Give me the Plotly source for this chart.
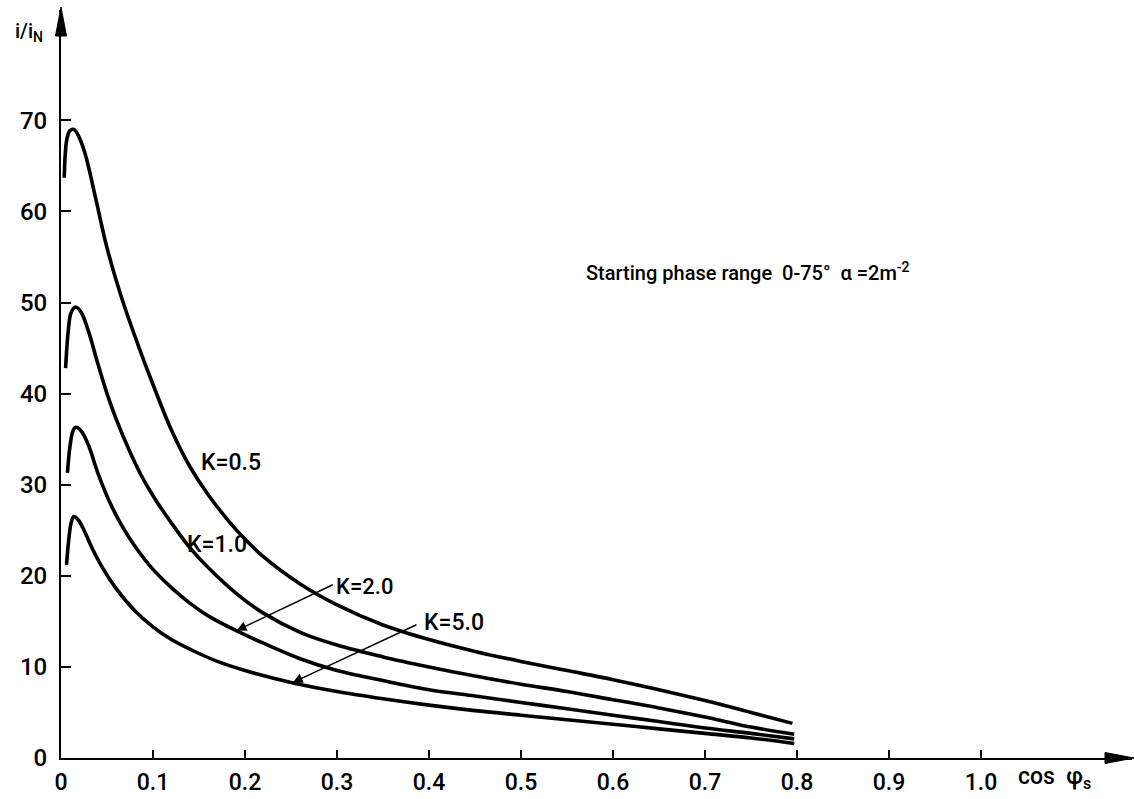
import plotly.graph_objects as go

# ---- data ----
k05_x = [0.0035, 0.0065, 0.010, 0.014, 0.019, 0.026, 0.038, 0.050, 0.065, 0.085, 0.100, 0.120, 0.140, 0.160,
         0.190, 0.220, 0.260, 0.300, 0.350, 0.400, 0.450, 0.500, 0.550, 0.600, 0.650, 0.700, 0.750, 0.795]
k05_y = [63.7, 68.0, 68.9, 69.0, 68.3, 66.4, 61.3, 56.0, 50.8, 45.0, 41.0, 36.0, 32.0, 28.9,
         25.1, 22.1, 19.1, 16.8, 14.6, 13.0, 11.7, 10.6, 9.6, 8.6, 7.5, 6.3, 5.0, 3.8]

k10_x = [0.005, 0.008, 0.011, 0.016, 0.022, 0.030, 0.040, 0.050, 0.060, 0.075, 0.090, 0.105, 0.120, 0.140,
         0.160, 0.190, 0.220, 0.260, 0.300, 0.350, 0.400, 0.450, 0.500, 0.550, 0.600, 0.650, 0.700, 0.750, 0.797]
k10_y = [42.8, 47.0, 48.9, 49.5, 48.9, 46.8, 43.3, 40.0, 37.2, 33.6, 30.5, 28.0, 25.8, 23.1,
         20.9, 18.1, 15.9, 13.8, 12.4, 11.1, 10.0, 9.0, 8.1, 7.3, 6.4, 5.5, 4.5, 3.4, 2.6]

k20_x = [0.007, 0.010, 0.013, 0.016, 0.022, 0.030, 0.040, 0.052, 0.065, 0.080, 0.100, 0.120, 0.140, 0.160,
         0.190, 0.220, 0.260, 0.300, 0.350, 0.400, 0.450, 0.500, 0.550, 0.600, 0.650, 0.700, 0.750, 0.797]
k20_y = [31.3, 34.4, 35.9, 36.3, 35.9, 34.3, 31.3, 28.3, 25.7, 23.3, 20.7, 18.7, 17.0, 15.6,
         14.0, 12.6, 10.9, 9.6, 8.5, 7.5, 6.8, 6.1, 5.4, 4.7, 4.0, 3.3, 2.7, 2.1]

k50_x = [0.006, 0.009, 0.011, 0.014, 0.019, 0.025, 0.034, 0.045, 0.060, 0.080, 0.100, 0.120, 0.143, 0.170,
         0.200, 0.250, 0.300, 0.350, 0.400, 0.450, 0.500, 0.550, 0.600, 0.650, 0.700, 0.750, 0.797]
k50_y = [21.2, 24.5, 25.8, 26.5, 26.1, 25.0, 23.0, 20.9, 18.6, 16.2, 14.4, 13.0, 11.8, 10.6,
         9.6, 8.3, 7.3, 6.5, 5.8, 5.2, 4.7, 4.2, 3.7, 3.2, 2.7, 2.2, 1.6]

x_ticks = [0, 0.1, 0.2, 0.3, 0.4, 0.5, 0.6, 0.7, 0.8, 0.9, 1.0]
x_tick_text = ["0", "0.1", "0.2", "0.3", "0.4", "0.5", "0.6", "0.7", "0.8", "0.9", "1.0"]
y_ticks = [0, 10, 20, 30, 40, 50, 60, 70]

labels = ["K=0.5", "K=1.0", "K=2.0", "K=5.0"]

# ---- layout geometry (pixels) ----
W, H = 1134, 799
PL, PR, PT, PB = 61, 2, 10, 41
PW, PH = W - PL - PR, H - PT - PB


def paper(px, py):
    return (px - PL) / PW, (PT + PH - py) / PH


FONT = "Roboto"
TXT = dict(color="black", family=FONT, weight=500)
fig = go.Figure()
for xs, ys in [(k05_x, k05_y), (k10_x, k10_y), (k20_x, k20_y), (k50_x, k50_y)]:
    fig.add_trace(go.Scatter(x=xs, y=ys, mode="lines",
                             line=dict(color="black", width=3.6, shape="spline", smoothing=1.0),
                             showlegend=False, hoverinfo="skip"))

# curve labels
fig.add_annotation(x=0.185, y=32.4, text=labels[0], showarrow=False, xanchor="center", yanchor="middle",
                   font=dict(size=23, **TXT))
fig.add_annotation(x=0.170, y=23.4, text=labels[1], showarrow=False, xanchor="center", yanchor="middle",
                   font=dict(size=23, **TXT))
fig.add_annotation(x=0.297, y=18.8, text=labels[2], showarrow=False, xanchor="left", yanchor="middle",
                   font=dict(size=22, **TXT))
fig.add_annotation(x=0.392, y=14.9, text=labels[3], showarrow=False, xanchor="left", yanchor="middle",
                   font=dict(size=23, **TXT))
# leader lines
fig.add_annotation(x=0.191, y=14.0, ax=0.297, ay=19.1, axref="x", ayref="y", text="",
                   showarrow=True, arrowhead=2, arrowsize=1.3, arrowwidth=1.5, arrowcolor="black")
fig.add_annotation(x=0.252, y=8.3, ax=0.388, ay=14.7, axref="x", ayref="y", text="",
                   showarrow=True, arrowhead=2, arrowsize=1.3, arrowwidth=1.5, arrowcolor="black")

# descriptive text
fig.add_annotation(x=0.569, y=53.3, xanchor="left", yanchor="middle",
                   text="Starting phase range  0-75°  α =2m<sup>-2</sup>", showarrow=False,
                   font=dict(size=20, **TXT))

# axis titles
ax_, ay_ = paper(29, 32)
fig.add_annotation(x=ax_, y=ay_, xref="paper", yref="paper", text="i/i<sub>N</sub>",
                   xanchor="center", yanchor="middle",
                   showarrow=False, font=dict(size=20, **TXT))
bx_, by_ = paper(1016, 778)
fig.add_annotation(x=bx_, y=by_, xref="paper", yref="paper", xanchor="left", yanchor="middle",
                   text="cos  φ<sub>s</sub>", showarrow=False, font=dict(size=23, **TXT))


# arrowheads of the axes
def tri(p1, p2, p3):
    a, b, c = paper(*p1), paper(*p2), paper(*p3)
    return f"M {a[0]},{a[1]} L {b[0]},{b[1]} L {c[0]},{c[1]} Z"


fig.add_shape(type="path", xref="paper", yref="paper",
              path=tri((61, 7), (55.5, 36), (66.5, 36)), fillcolor="black", line=dict(color="black", width=1))
fig.add_shape(type="path", xref="paper", yref="paper",
              path=tri((1134, 758), (1105, 752.5), (1105, 763.5)), fillcolor="black",
              line=dict(color="black", width=1))

fig.update_xaxes(range=[0, PW / 920], tickvals=x_ticks, ticktext=x_tick_text,
                 ticks="inside", ticklen=8, tickwidth=2, tickcolor="black",
                 showline=True, linewidth=2, linecolor="black", showgrid=False, zeroline=False,
                 ticklabelstandoff=2, automargin=False,
                 tickfont=dict(size=23, **TXT))
fig.update_yaxes(range=[0, PH / 9.11], tickvals=y_ticks,
                 ticks="inside", ticklen=10, tickwidth=2, tickcolor="black",
                 showline=True, linewidth=2, linecolor="black", showgrid=False, zeroline=False,
                 ticklabelstandoff=7, automargin=False,
                 tickfont=dict(size=24, **TXT))
fig.update_layout(width=W, height=H, margin=dict(l=PL, r=PR, t=PT, b=PB, autoexpand=False),
                  paper_bgcolor="white", plot_bgcolor="white", showlegend=False)

fig.write_html("out.html")
